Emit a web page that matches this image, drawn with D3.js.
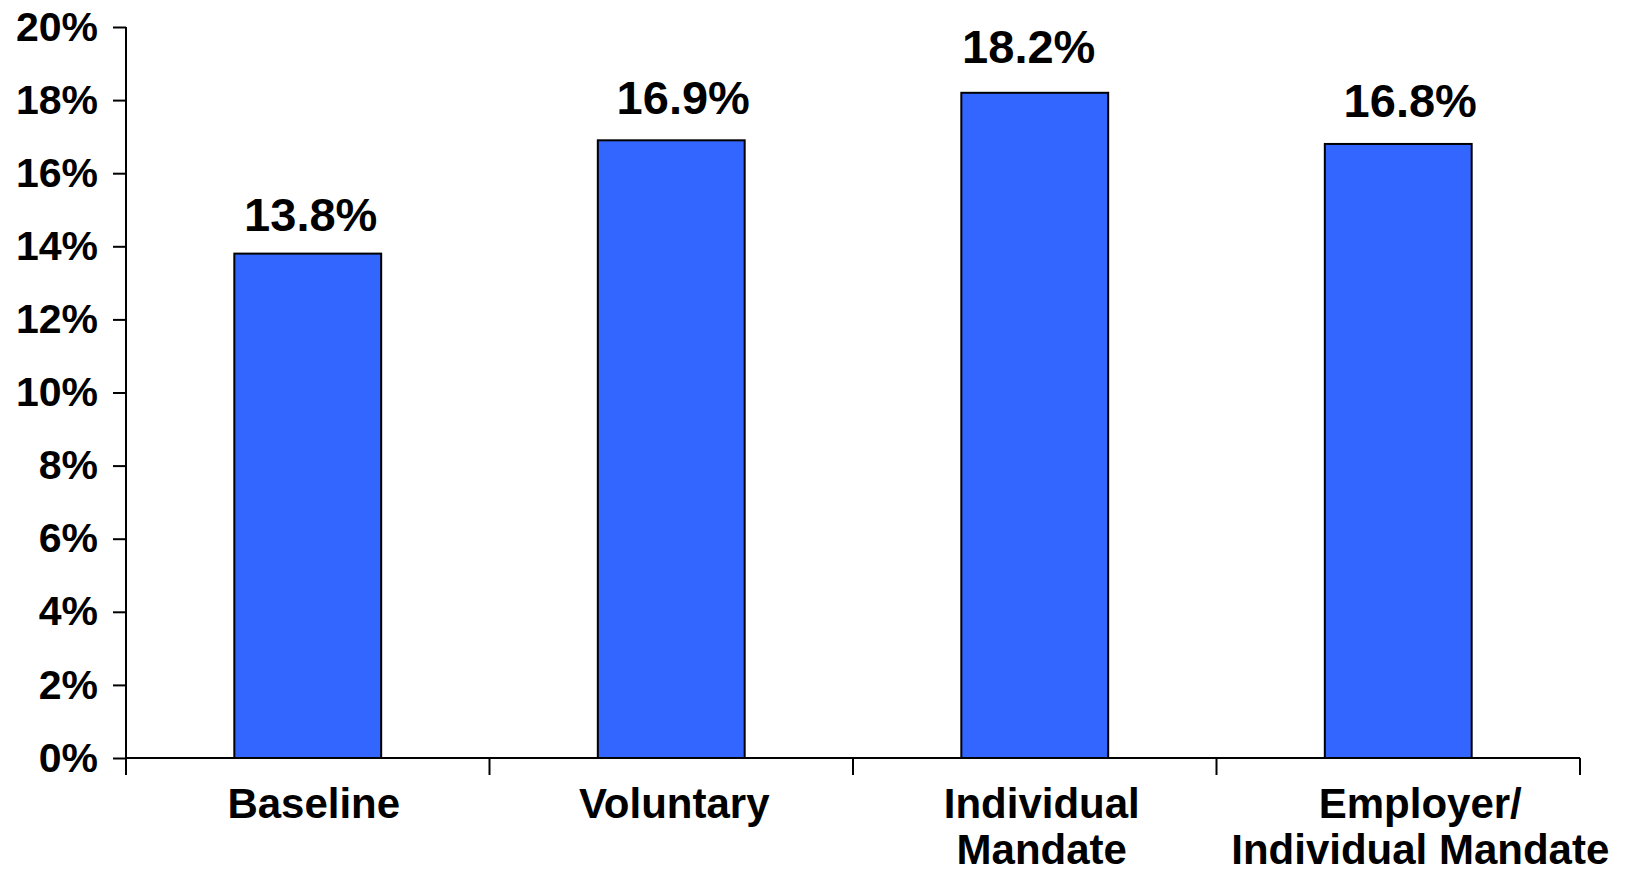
<!DOCTYPE html>
<html>
<head>
<meta charset="utf-8">
<script src="https://cdn.jsdelivr.net/npm/d3@7"></script>
<style>
  html, body { margin: 0; padding: 0; background: #fff; }
  text { font-family: "Liberation Sans", Arial, sans-serif; font-weight: bold; fill: #000; }
</style>
</head>
<body>
<div id="chart"></div>
<script>
// chart data
var categories = ["Baseline", "Voluntary", "Individual Mandate", "Employer/ Individual Mandate"];
var categoryLines = [["Baseline"], ["Voluntary"], ["Individual", "Mandate"], ["Employer/", "Individual Mandate"]];
var values = [13.8, 16.9, 18.2, 16.8];
var valueLabels = ["13.8%", "16.9%", "18.2%", "16.8%"];
var yTicks = [0, 2, 4, 6, 8, 10, 12, 14, 16, 18, 20];

var W = 1633, H = 872;
var margin = {top: 27, right: 53, bottom: 114, left: 126};
var width = W - margin.left - margin.right,
    height = H - margin.top - margin.bottom;

// small hand nudges so labels sit where the original put them
var valueNudge = [[3, 23], [12, 26], [-6, 30], [12, 27]];
var catNudge = [6, 3, 7, 22];
var lineGap = 46;

var svg = d3.select("#chart").append("svg")
  .attr("width", W)
  .attr("height", H)
  .append("g")
  .attr("transform", "translate(" + margin.left + "," + margin.top + ")");

var x = d3.scaleBand()
  .domain(categories)
  .range([0, width])
  .paddingInner(0.596)
  .paddingOuter(0.298);

var y = d3.scaleLinear()
  .domain([0, 20])
  .range([height, 0]);

// bars
svg.selectAll(".bar")
  .data(values)
  .enter().append("rect")
  .attr("class", "bar")
  .attr("x", function(d, i) { return x(categories[i]); })
  .attr("width", x.bandwidth())
  .attr("y", function(d) { return y(d); })
  .attr("height", function(d) { return height - y(d); })
  .attr("fill", "#3366ff")
  .attr("stroke", "#000")
  .attr("stroke-width", 2);

// value labels
svg.selectAll(".val")
  .data(values)
  .enter().append("text")
  .attr("class", "val")
  .attr("x", function(d, i) { return x(categories[i]) + x.bandwidth() / 2 + valueNudge[i][0]; })
  .attr("y", function(d, i) { return y(d) - valueNudge[i][1]; })
  .attr("text-anchor", "middle")
  .style("font-size", "47px")
  .text(function(d, i) { return valueLabels[i]; });

// y axis
var yAxis = svg.append("g")
  .call(d3.axisLeft(y)
    .tickValues(yTicks)
    .tickSize(13)
    .tickPadding(15)
    .tickFormat(function(d) { return d + "%"; }));
yAxis.select(".domain").remove();
yAxis.selectAll(".tick line").attr("stroke", "#000").attr("stroke-width", 2);
yAxis.selectAll(".tick text").style("font-size", "41px");

// axis lines
svg.append("line")
  .attr("x1", 0).attr("x2", 0)
  .attr("y1", y(20)).attr("y2", height + 17)
  .attr("stroke", "#000").attr("stroke-width", 2);
svg.append("line")
  .attr("x1", 0).attr("x2", width)
  .attr("y1", height).attr("y2", height)
  .attr("stroke", "#000").attr("stroke-width", 2);

// x ticks at band boundaries
var bounds = categories.map(function(c) { return x(c) + x.bandwidth() / 2 + x.step() / 2; });
svg.selectAll(".xtick")
  .data(bounds)
  .enter().append("line")
  .attr("class", "xtick")
  .attr("x1", function(d) { return d; })
  .attr("x2", function(d) { return d; })
  .attr("y1", height)
  .attr("y2", height + 17)
  .attr("stroke", "#000")
  .attr("stroke-width", 2);

// category labels
var cat = svg.selectAll(".cat")
  .data(categoryLines)
  .enter().append("text")
  .attr("class", "cat")
  .attr("text-anchor", "middle")
  .style("font-size", "42px")
  .attr("transform", function(d, i) {
    return "translate(" + (x(categories[i]) + x.bandwidth() / 2 + catNudge[i]) + "," + (height + 60) + ")";
  });
cat.selectAll("tspan")
  .data(function(d) { return d; })
  .enter().append("tspan")
  .attr("x", 0)
  .attr("y", function(d, i) { return i * lineGap; })
  .text(function(d) { return d; });
</script>
</body>
</html>
